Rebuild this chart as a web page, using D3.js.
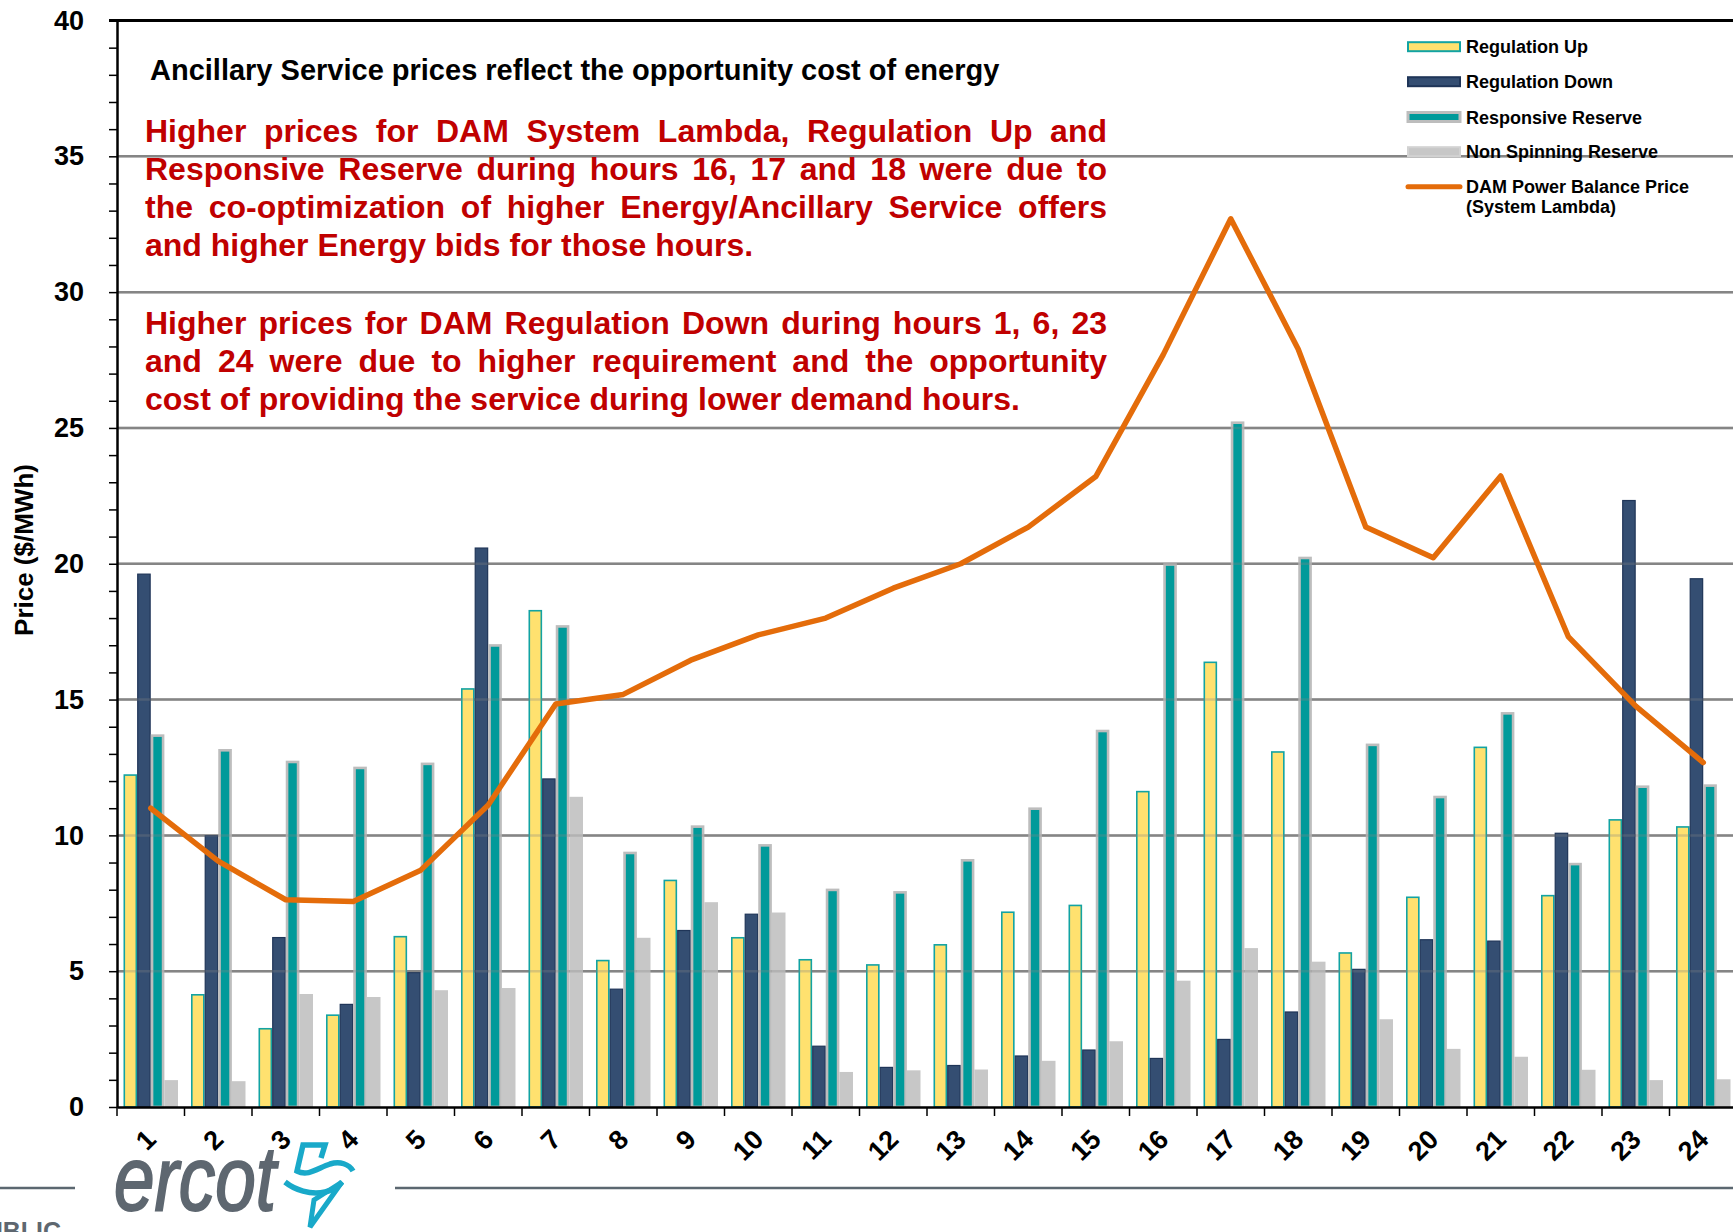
<!DOCTYPE html>
<html>
<head>
<meta charset="utf-8">
<script src="https://cdn.jsdelivr.net/npm/d3@7/dist/d3.min.js"></script>
<style>
  body { margin: 0; background: #fff; }
  text { font-family: "Liberation Sans", Arial, sans-serif; font-weight: bold; }
</style>
</head>
<body>
<div id="viz"></div>
<script>
// chart data
var hours = ['1','2','3','4','5','6','7','8','9','10','11','12',
             '13','14','15','16','17','18','19','20','21','22','23','24'];

var regUp   = [12.25, 4.16, 2.91, 3.41, 6.30, 15.42, 18.30, 5.42, 8.37, 6.26, 5.45, 5.26,
               6.00, 7.20, 7.45, 11.64, 16.40, 13.10, 5.70, 7.75, 13.27, 7.81, 10.60, 10.34];
var regDown = [19.64, 10.01, 6.26, 3.80, 4.97, 20.60, 12.10, 4.36, 6.52, 7.12, 2.26, 1.48,
               1.55, 1.90, 2.12, 1.81, 2.51, 3.52, 5.09, 6.18, 6.13, 10.10, 22.35, 19.47];
var respRes = [13.72, 13.18, 12.75, 12.53, 12.68, 17.04, 17.74, 9.40, 10.37, 9.68, 8.04, 7.95,
               9.13, 11.03, 13.89, 20.02, 25.24, 20.26, 13.38, 11.46, 14.54, 8.99, 11.84, 11.88];
var nonSpin = [0.99, 0.95, 4.16, 4.05, 4.30, 4.38, 11.42, 6.23, 7.54, 7.16, 1.29, 1.35,
               1.38, 1.70, 2.42, 4.65, 5.85, 5.35, 3.23, 2.14, 1.85, 1.37, 0.99, 1.02];
var systemLambda = [11.00, 9.05, 7.63, 7.57, 8.72, 11.12, 14.84, 15.19, 16.45, 17.38, 18.00, 19.10,
                    20.00, 21.35, 23.21, 27.70, 32.70, 27.90, 21.35, 20.22, 23.23, 17.32, 14.76, 12.68];

var seriesNames = ['Regulation Up', 'Regulation Down', 'Responsive Reserve', 'Non Spinning Reserve'];
var lineName = ['DAM Power Balance Price', '(System Lambda)'];
var yTickLabels = [0, 5, 10, 15, 20, 25, 30, 35, 40];
var yMinorTicks = [0,1,2,3,4,5,6,7,8,9,10,11,12,13,14,15,16,17,18,19,20,
                   21,22,23,24,25,26,27,28,29,30,31,32,33,34,35,36,37,38,39,40];

var titleText = 'Ancillary Service prices reflect the opportunity cost of energy';
var note1 = ['Higher prices for DAM System Lambda, Regulation Up and',
             'Responsive Reserve during hours 16, 17 and 18 were due to',
             'the co-optimization of higher Energy/Ancillary Service offers',
             'and higher Energy bids for those hours.'];
var note2 = ['Higher prices for DAM Regulation Down during hours 1, 6, 23',
             'and 24 were due to higher requirement and the opportunity',
             'cost of providing the service during lower demand hours.'];

// bar styles, one per series
var barStyle = [
  {fill: '#FFE16F', stroke: '#12A3A3', sw: 1.6},
  {fill: '#344E72', stroke: '#1F3558', sw: 1.2},
  {fill: '#009A9A', stroke: '#BDBDBD', sw: 2.6},
  {fill: '#C7C7C7', stroke: 'none',    sw: 0}
];
var lineColor = '#E46C0A';

// svg
var svg = d3.select('#viz').append('svg')
  .attr('width', 1733)
  .attr('height', 1232);

// scales
var plotLeft = 117;
var catWidth = 67.5;
var x = d3.scaleBand().domain(hours).range([plotLeft, plotLeft + catWidth * hours.length]);
var xInner = d3.scaleBand().domain([0, 1, 2, 3]).range([6.5, 61]);
var y = d3.scaleLinear().domain([0, 40]).range([1107, 20.5]);

// horizontal gridlines (under the bars)
var grid = svg.append('g').attr('class', 'grid');
grid.selectAll('line')
  .data(yTickLabels.filter(function(d) { return d > 0 && d < 40; }))
  .enter().append('line')
  .attr('x1', plotLeft).attr('x2', 1733)
  .attr('y1', function(d) { return y(d); })
  .attr('y2', function(d) { return y(d); })
  .attr('stroke', '#858585')
  .attr('stroke-width', 2.5);

// bars
var allSeries = [regUp, regDown, respRes, nonSpin];
var bars = svg.append('g').attr('class', 'bars');
allSeries.forEach(function(series, s) {
  var st = barStyle[s];
  bars.selectAll('.bar' + s)
    .data(series)
    .enter().append('rect')
    .attr('class', 'bar' + s)
    .attr('x', function(d, i) { return x(hours[i]) + xInner(s) + st.sw / 2; })
    .attr('y', function(d) { return y(d) + st.sw / 2; })
    .attr('width', xInner.bandwidth() - st.sw)
    .attr('height', function(d) { return Math.max(0, y(0) - y(d) - st.sw / 2); })
    .attr('fill', st.fill)
    .attr('stroke', st.stroke)
    .attr('stroke-width', st.sw);
});

// faint gridline showing through the bars
grid.clone(true).attr('opacity', 0.3).raise();

// top border of the plot at 40
svg.append('line')
  .attr('x1', plotLeft - 8).attr('x2', 1733)
  .attr('y1', y(40)).attr('y2', y(40))
  .attr('stroke', '#000').attr('stroke-width', 3);

// y axis with minor ticks every 1
var yAxis = svg.append('g')
  .attr('class', 'axis yAxis')
  .attr('transform', 'translate(' + plotLeft + ',0)')
  .call(d3.axisLeft(y).tickValues(yMinorTicks).tickSize(8).tickSizeOuter(0).tickPadding(25)
    .tickFormat(function(d) { return d % 5 === 0 ? d : ''; }));
yAxis.select('.domain').attr('stroke', '#000').attr('stroke-width', 2.5);
yAxis.selectAll('.tick line').attr('stroke', '#000').attr('stroke-width', 1.5);
yAxis.selectAll('.tick text')
  .attr('fill', '#000')
  .style('font-size', '27px')
  .style('font-family', '"Liberation Sans", Arial, sans-serif')
  .style('font-weight', 'bold');

// x axis: labels at centres, ticks at category boundaries
var xAxis = svg.append('g')
  .attr('class', 'axis xAxis')
  .attr('transform', 'translate(0,' + y(0) + ')')
  .call(d3.axisBottom(x).tickSize(0).tickSizeOuter(0));
xAxis.select('.domain').attr('stroke', '#000').attr('stroke-width', 2.5);
xAxis.selectAll('.tick text')
  .attr('y', 0).attr('dy', 0)
  .attr('text-anchor', 'end')
  .attr('transform', 'translate(7,34) rotate(-45)')
  .attr('fill', '#000')
  .style('font-size', '27px')
  .style('font-family', '"Liberation Sans", Arial, sans-serif')
  .style('font-weight', 'bold');
xAxis.selectAll('.boundary')
  .data(hours)
  .enter().append('line')
  .attr('class', 'boundary')
  .attr('x1', function(d) { return x(d); })
  .attr('x2', function(d) { return x(d); })
  .attr('y1', 0).attr('y2', 9)
  .attr('stroke', '#000').attr('stroke-width', 1.5);

// y axis title
svg.append('text')
  .attr('transform', 'translate(33,550) rotate(-90)')
  .attr('text-anchor', 'middle')
  .style('font-size', '26px')
  .text('Price ($/MWh)');

// system lambda line
var line = d3.line()
  .x(function(d, i) { return x(hours[i]) + x.bandwidth() / 2; })
  .y(function(d) { return y(d); });
svg.append('path')
  .datum(systemLambda)
  .attr('d', line)
  .attr('fill', 'none')
  .attr('stroke', lineColor)
  .attr('stroke-width', 5.5)
  .attr('stroke-linejoin', 'round')
  .attr('stroke-linecap', 'round');

// legend
var legend = svg.append('g').attr('class', 'legend');
var legendY = [46.7, 81.7, 117, 151.7];
seriesNames.forEach(function(name, i) {
  var st = barStyle[i];
  var sw = i === 2 ? 3 : 2;
  legend.append('rect')
    .attr('x', 1408).attr('y', legendY[i] - 4.5)
    .attr('width', 52).attr('height', 9)
    .attr('fill', st.fill)
    .attr('stroke', i === 3 ? '#D2D2D2' : st.stroke)
    .attr('stroke-width', sw);
  legend.append('text')
    .attr('x', 1466).attr('y', legendY[i] + 6.5)
    .style('font-size', '18px')
    .text(name);
});
legend.append('line')
  .attr('x1', 1408).attr('x2', 1460)
  .attr('y1', 186.7).attr('y2', 186.7)
  .attr('stroke', lineColor).attr('stroke-width', 5)
  .attr('stroke-linecap', 'round');
lineName.forEach(function(t, i) {
  legend.append('text')
    .attr('x', 1466).attr('y', 193 + i * 20)
    .style('font-size', '18px')
    .text(t);
});

// annotation text
svg.append('text')
  .attr('x', 150).attr('y', 80)
  .style('font-size', '29px')
  .attr('fill', '#000')
  .text(titleText);

// justified paragraph: all lines but the last are stretched to the full width
function drawParagraph(lines, x0, width, y0, lineHeight) {
  lines.forEach(function(ln, i) {
    var t = svg.append('text')
      .attr('y', y0 + i * lineHeight)
      .attr('fill', '#C00000')
      .style('font-size', '32px');
    var words = ln.split(' ');
    var spans = words.map(function(w) { return t.append('tspan').text(w); });
    var widths = spans.map(function(s) { return s.node().getComputedTextLength(); });
    var total = d3.sum(widths);
    var gap = (i < lines.length - 1) ? (width - total) / (words.length - 1) : 32 * 0.278;
    var cx = x0;
    spans.forEach(function(s, k) {
      s.attr('x', cx);
      cx += widths[k] + gap;
    });
  });
}
drawParagraph(note1, 145, 962, 141.5, 38);
drawParagraph(note2, 145, 962, 334, 37.8);

// footer: rule, logo and classification
svg.append('line')
  .attr('x1', 0).attr('x2', 75).attr('y1', 1188).attr('y2', 1188)
  .attr('stroke', '#5B6770').attr('stroke-width', 2.5);
svg.append('line')
  .attr('x1', 395).attr('x2', 1733).attr('y1', 1188).attr('y2', 1188)
  .attr('stroke', '#5B6770').attr('stroke-width', 2.5);

svg.append('text')
  .attr('x', 114).attr('y', 1210)
  .attr('fill', '#5E6770')
  .attr('stroke', '#5E6770')
  .attr('stroke-width', 2)
  .attr('textLength', 162)
  .attr('lengthAdjust', 'spacingAndGlyphs')
  .style('font-size', '90px')
  .style('font-style', 'italic')
  .style('font-weight', 'normal')
  .text('ercot');

// bolt mark next to the logo text
var bolt = svg.append('g').attr('class', 'bolt')
  .attr('fill', 'none')
  .attr('stroke', '#19A9C9')
  .attr('stroke-width', 5.5);
bolt.append('path')
  .attr('d', 'M321,1158 L325,1145 L303,1145 L297,1171 C308,1177 318,1168 330,1164 C340,1161 349,1164 353,1171')
  .attr('stroke-linejoin', 'miter');
bolt.append('path')
  .attr('d', 'M285,1182 C295,1190 310,1195 325,1192 C334,1190 339,1186 342,1182');
bolt.append('path')
  .attr('d', 'M342,1182 L310,1227 L314,1200 Z')
  .attr('stroke-width', 5)
  .attr('stroke-linejoin', 'miter');

svg.append('text')
  .attr('x', -32).attr('y', 1240)
  .attr('fill', '#5E6770')
  .style('font-size', '25px')
  .text('PUBLIC');
</script>
</body>
</html>
